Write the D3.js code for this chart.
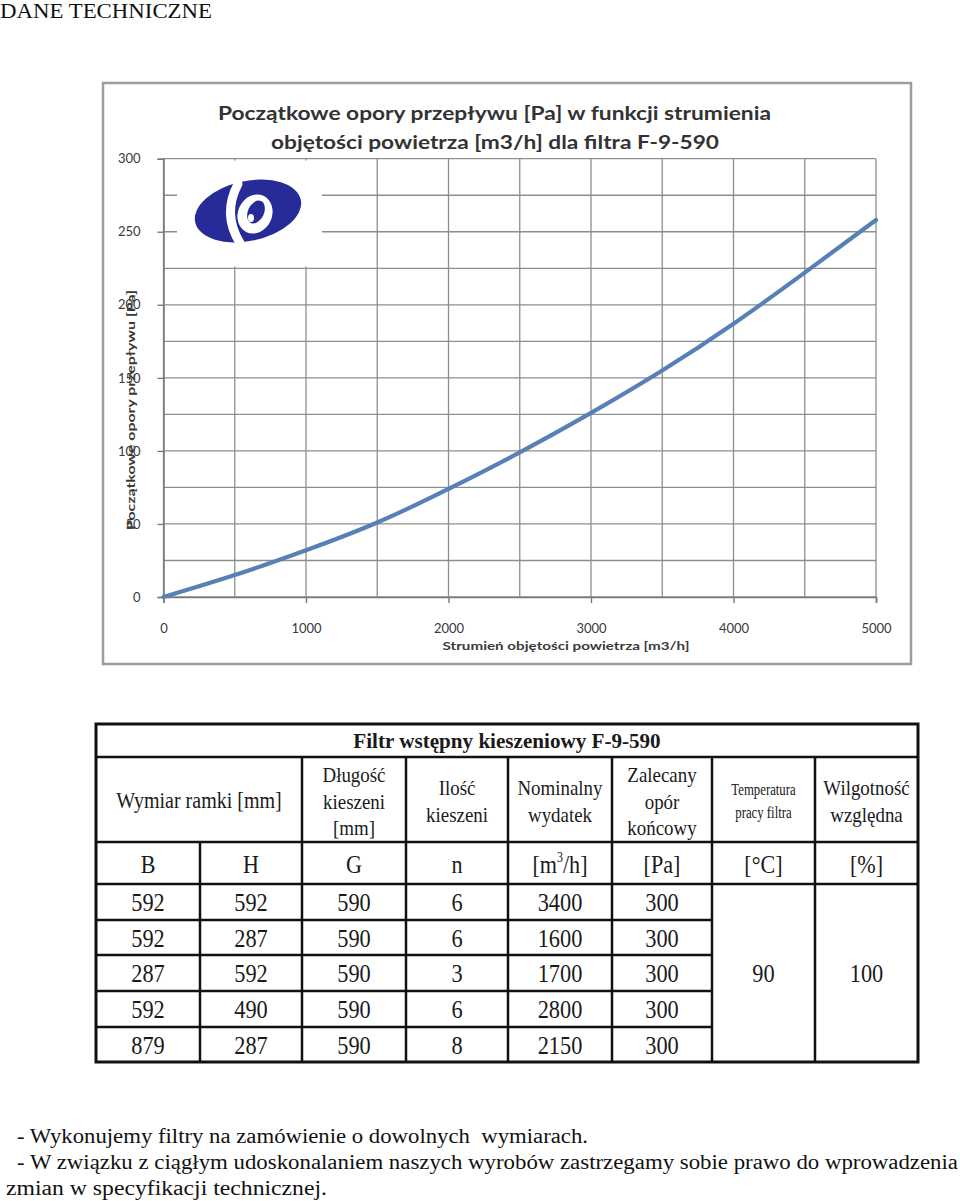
<!DOCTYPE html>
<html><head><meta charset="utf-8">
<script src="https://cdn.jsdelivr.net/npm/d3@7"></script>
<style>body{margin:0;background:#fff} svg{display:block} text{white-space:pre}</style>
</head><body>
<script>
// ---------- DATA ----------
const pageHeading = "DANE TECHNICZNE";
const chartTitleLines = ["Początkowe opory przepływu [Pa] w funkcji strumienia", "objętości powietrza [m3/h] dla filtra F-9-590"];
const xAxisTitle = "Strumień objętości powietrza [m3/h]";
const yAxisTitle = "Początkowe opory przepływu [Pa]";
const flowValues = [0, 500, 1000, 1500, 2000, 2500, 3000, 3500, 4000, 4500, 5000];
const pressureValues = [0, 15, 32, 51, 74, 99, 126, 155, 187, 222, 258];
const xTickValues = [0, 1000, 2000, 3000, 4000, 5000];
const yTickValues = [0, 50, 100, 150, 200, 250, 300];
const xGridValues = [0, 500, 1000, 1500, 2000, 2500, 3000, 3500, 4000, 4500, 5000];
const yGridValues = [0, 25, 50, 75, 100, 125, 150, 175, 200, 225, 250, 275, 300];

const tableTitle = "Filtr wstępny kieszeniowy F-9-590";
const headerLines = [["Wymiar ramki [mm]"], ["Długość", "kieszeni", "[mm]"], ["Ilość", "kieszeni"], ["Nominalny", "wydatek"], ["Zalecany", "opór", "końcowy"], ["Temperatura", "pracy filtra"], ["Wilgotność", "względna"]];
const unitLabels = ["B", "H", "G", "n", "m3h", "[Pa]", "[°C]", "[%]"];
const colB = [592, 592, 287, 592, 879];
const colH = [592, 287, 592, 490, 287];
const colG = [590, 590, 590, 590, 590];
const colN = [6, 6, 3, 6, 8];
const colFlow = [3400, 1600, 1700, 2800, 2150];
const colPa = [300, 300, 300, 300, 300];
const temperatureValue = "90";
const humidityValue = "100";
const footnoteLines = ["- Wykonujemy filtry na zamówienie o dowolnych  wymiarach.", "- W związku z ciągłym udoskonalaniem naszych wyrobów zastrzegamy sobie prawo do wprowadzenia", "zmian w specyfikacji technicznej."];

// ---------- DRAW ----------
const svg = d3.select("body").append("svg").attr("width", 960).attr("height", 1201);
const serif = "'Liberation Serif','Times New Roman',serif";
const sans = "Lato,'Open Sans',sans-serif";

svg.append("text").attr("x", 0).attr("y", 18).attr("font-family", serif).attr("font-size", 21)
  .attr("textLength", 212).attr("lengthAdjust", "spacingAndGlyphs").attr("fill", "#111").text(pageHeading);

// chart frame
svg.append("rect").attr("x", 103).attr("y", 83).attr("width", 808).attr("height", 581)
  .attr("fill", "#fff").attr("stroke", "#9c9c9c").attr("stroke-width", 2.5);

const x = d3.scaleLinear().domain([0, 5000]).range([163.5, 876]);
const y = d3.scaleLinear().domain([0, 300]).range([597, 158.7]);

const gridG = svg.append("g");
gridG.selectAll("line.h").data(yGridValues).join("line").attr("class", "h")
  .attr("x1", x(0)).attr("x2", x(5000)).attr("y1", d => y(d)).attr("y2", d => y(d))
  .attr("stroke", "#8e8e8e").attr("stroke-width", 1.3);
gridG.selectAll("line.v").data(xGridValues).join("line").attr("class", "v")
  .attr("x1", d => x(d)).attr("x2", d => x(d)).attr("y1", y(0)).attr("y2", y(300))
  .attr("stroke", "#8e8e8e").attr("stroke-width", 1.3);

// logo area (white patch covering grid)
svg.append("rect").attr("x", 177).attr("y", 160.5).attr("width", 145).attr("height", 106).attr("fill", "#fff");
const logo = svg.append("g");
logo.append("ellipse").attr("cx", 248).attr("cy", 211).attr("rx", 54).attr("ry", 30)
  .attr("transform", "rotate(-12,248,211)").attr("fill", "#272b98");
logo.append("path").attr("d", "M238,184 Q222,214 240,243").attr("fill", "none").attr("stroke", "#fff").attr("stroke-width", 9).attr("stroke-linecap", "round");
logo.append("ellipse").attr("cx", 255).attr("cy", 214).attr("rx", 17).attr("ry", 20)
  .attr("transform", "rotate(25,255,214)").attr("fill", "#fff");
logo.append("ellipse").attr("cx", 256).attr("cy", 212).attr("rx", 8).attr("ry", 12)
  .attr("transform", "rotate(25,256,212)").attr("fill", "#272b98");
logo.append("ellipse").attr("cx", 251).attr("cy", 218).attr("rx", 3).attr("ry", 4).attr("fill", "#fff");

// axes
const xAxis = d3.axisBottom(x).tickValues(xTickValues).tickSize(6).tickPadding(21).tickFormat(d3.format("d"));
const yAxis = d3.axisLeft(y).tickValues(yTickValues).tickSize(6).tickPadding(17).tickFormat(d3.format("d"));
const gx = svg.append("g").attr("transform", `translate(0,${y(0)})`).call(xAxis);
const gy = svg.append("g").attr("transform", `translate(${x(0)},0)`).call(yAxis);
[gx, gy].forEach(g => {
  g.select(".domain").attr("stroke", "#7a7a7a").attr("stroke-width", 1.6);
  g.selectAll(".tick line").attr("stroke", "#7a7a7a").attr("stroke-width", 1.4);
  g.selectAll(".tick text").attr("font-family", sans).attr("font-size", 13).attr("fill", "#3a3a3a");
});

// curve
const pts = flowValues.map((f, i) => [f, pressureValues[i]]);
svg.append("path").datum(pts)
  .attr("d", d3.line().x(d => x(d[0])).y(d => y(d[1])).curve(d3.curveNatural))
  .attr("fill", "none").attr("stroke", "#5781b6").attr("stroke-width", 4.2).attr("stroke-linecap", "round");

// titles
svg.append("text").attr("x", 494.5).attr("y", 120).attr("text-anchor", "middle")
  .attr("font-family", sans).attr("font-weight", "bold").attr("font-size", 18).attr("fill", "#333")
  .attr("textLength", 553).attr("lengthAdjust", "spacingAndGlyphs").text(chartTitleLines[0]);
svg.append("text").attr("x", 495).attr("y", 149).attr("text-anchor", "middle")
  .attr("font-family", sans).attr("font-weight", "bold").attr("font-size", 18).attr("fill", "#333")
  .attr("textLength", 448).attr("lengthAdjust", "spacingAndGlyphs").text(chartTitleLines[1]);
svg.append("text").attr("x", 566).attr("y", 650).attr("text-anchor", "middle")
  .attr("font-family", sans).attr("font-weight", "bold").attr("font-size", 12).attr("fill", "#3a3a3a")
  .attr("textLength", 247).attr("lengthAdjust", "spacingAndGlyphs").text(xAxisTitle);
svg.append("text").attr("transform", "translate(135,410) rotate(-90)").attr("text-anchor", "middle")
  .attr("font-family", sans).attr("font-weight", "bold").attr("font-size", 12).attr("fill", "#3a3a3a")
  .attr("textLength", 240).attr("lengthAdjust", "spacingAndGlyphs").text(yAxisTitle);

// ---------- TABLE ----------
const colX = [96, 200, 302, 406, 508, 612, 712, 815, 918];
const rowY = [724, 757, 842, 884, 920, 955, 991, 1027, 1062];
const tg = svg.append("g");
const L = (x1, y1, x2, y2, w) => tg.append("line").attr("x1", x1).attr("y1", y1).attr("x2", x2).attr("y2", y2).attr("stroke", "#111").attr("stroke-width", w || 2.5);
L(colX[0], rowY[1], colX[8], rowY[1]);
L(colX[0], rowY[2], colX[8], rowY[2]);
L(colX[0], rowY[3], colX[8], rowY[3]);
for (let r = 4; r <= 7; r++) L(colX[0], rowY[r], colX[6], rowY[r]);
L(colX[1], rowY[2], colX[1], rowY[8]);
for (let c = 2; c <= 7; c++) L(colX[c], rowY[1], colX[c], rowY[8]);
tg.append("rect").attr("x", colX[0]).attr("y", rowY[0]).attr("width", colX[8] - colX[0]).attr("height", rowY[8] - rowY[0])
  .attr("fill", "none").attr("stroke", "#111").attr("stroke-width", 3);

function T(str, cx, by, size, sx, opts) {
  opts = opts || {};
  const t = tg.append("text").attr("transform", `translate(${cx},${by}) scale(${sx},1)`)
    .attr("text-anchor", "middle").attr("font-family", serif).attr("font-size", size).attr("fill", "#1a1a1a");
  if (opts.bold) t.attr("font-weight", "bold");
  t.text(str);
  return t;
}
const mid = (a, b) => (a + b) / 2;
T(tableTitle, mid(colX[0], colX[8]), 748, 22, 0.96, { bold: true });
// header
T(headerLines[0][0], mid(colX[0], colX[2]), 808, 23, 0.87);
const headCols = [[2, 3], [3, 4], [4, 5], [5, 6], [6, 7], [7, 8]];
headerLines.slice(1).forEach((lines, i) => {
  const [a, b] = headCols[i];
  const cx = mid(colX[a], colX[b]);
  const small = lines[0] === "Temperatura";
  const size = small ? 16 : 22;
  const gap = 26.5;
  const startY = lines.length === 3 ? 782 : 795;
  lines.forEach((ln, j) => T(ln, cx, startY + j * (small ? 23 : gap), size, small ? 0.8 : 0.86));
});
// units row
unitLabels.forEach((u, i) => {
  const cx = mid(colX[i], colX[i + 1]);
  if (u === "m3h") {
    const t = T("", cx, 873, 26, 0.85);
    t.append("tspan").text("[m");
    t.append("tspan").attr("font-size", 14).attr("dy", -11).text("3");
    t.append("tspan").attr("dy", 11).text("/h]");
  } else T(u, cx, 873, 26, 0.85);
});
// data rows
const dataCols = [colB, colH, colG, colN, colFlow, colPa];
dataCols.forEach((col, c) => {
  col.forEach((v, r) => {
    T(String(v), mid(colX[c], colX[c + 1]), mid(rowY[3 + r], rowY[4 + r]) + 9, 26, 0.86);
  });
});
T(temperatureValue, mid(colX[6], colX[7]), mid(rowY[3], rowY[8]) + 9, 26, 0.86);
T(humidityValue, mid(colX[7], colX[8]), mid(rowY[3], rowY[8]) + 9, 26, 0.86);

// ---------- FOOTNOTES ----------
const footX = [17, 17, 6];
const footY = [1143, 1169, 1195];
const footW = [571, 941, 321];
footnoteLines.forEach((s, i) => {
  svg.append("text").attr("x", footX[i]).attr("y", footY[i]).attr("font-family", serif).attr("font-size", 20)
    .attr("fill", "#111").attr("textLength", footW[i]).attr("lengthAdjust", "spacingAndGlyphs").text(s);
});
</script>
</body></html>
